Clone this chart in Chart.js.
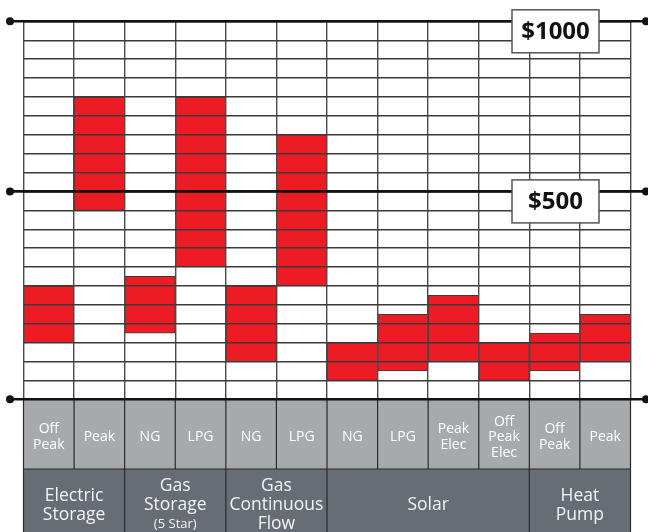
<!DOCTYPE html>
<html>
<head>
<meta charset="utf-8">
<script src="https://cdn.jsdelivr.net/npm/chart.js@4.4.1/dist/chart.umd.min.js"></script>
<style>
  html, body { margin: 0; padding: 0; background: #fff; }
  #wrap { width: 648px; height: 532px; }
</style>
</head>
<body>
<div id="wrap"><canvas id="costChart" width="648" height="532"></canvas></div>
<script>
// Running cost range per system, in grid rows ($500 line = row 11, $1000 line = row 20)
const subLabels = [['Off', 'Peak'], ['Peak'], ['NG'], ['LPG'], ['NG'], ['LPG'],
                   ['NG'], ['LPG'], ['Peak', 'Elec'], ['Off', 'Peak', 'Elec'], ['Off', 'Peak'], ['Peak']];
const groupLabels = [['Electric', 'Storage'], ['Gas', 'Storage', '(5 Star)'], ['Gas', 'Continuous', 'Flow'], ['Solar'], ['Heat', 'Pump']];
const groupSpans = [2, 2, 2, 4, 2];
const lowValues  = [3, 10, 3.5, 7, 2, 6, 1, 1.5, 2, 1, 1.5, 2];
const highValues = [6, 16, 6.5, 16, 6, 14, 3, 4.5, 5.5, 3, 3.5, 4.5];
const tickRows = [0, 11, 20];
const tickLabels = ['', '$500', '$1000'];

const FONT = '"Open Sans", "DejaVu Sans", sans-serif';

// Draw the thick reference lines, price boxes and the two label rows below
const decorPlugin = {
    id: 'decor',
    afterDraw(chart) {
        const ctx = chart.ctx;
        const area = chart.chartArea;
        const x = chart.scales.x;
        const y = chart.scales.y;
        const colW = (area.right - area.left) / subLabels.length;
        ctx.save();

        // label rows
        const rowTop = area.bottom;
        const rowMid = 469;
        const rowBot = chart.height;
        ctx.fillStyle = '#a7a9ac';
        ctx.fillRect(area.left, rowTop, area.right - area.left, rowMid - rowTop);
        ctx.fillStyle = '#676d75';
        ctx.fillRect(area.left, rowMid, area.right - area.left, rowBot - rowMid);

        ctx.strokeStyle = '#2a2a2a';
        ctx.lineWidth = 1.2;
        for (let i = 0; i <= subLabels.length; i++) {
            const px = area.left + i * colW;
            ctx.beginPath();
            ctx.moveTo(px, rowTop);
            ctx.lineTo(px, rowMid);
            ctx.stroke();
        }
        ctx.beginPath();
        ctx.moveTo(area.left, rowMid);
        ctx.lineTo(area.right, rowMid);
        ctx.stroke();
        let c = 0;
        ctx.beginPath();
        ctx.moveTo(area.left, rowMid);
        ctx.lineTo(area.left, rowBot);
        ctx.stroke();
        groupSpans.forEach(function(span) {
            c += span;
            const px = area.left + c * colW;
            ctx.beginPath();
            ctx.moveTo(px, rowMid);
            ctx.lineTo(px, rowBot);
            ctx.stroke();
        });

        ctx.fillStyle = '#ffffff';
        ctx.textAlign = 'center';
        ctx.textBaseline = 'middle';
        ctx.font = '14px ' + FONT;
        subLabels.forEach(function(lines, i) {
            const cx = x.getPixelForValue(i);
            const lh = lines.length > 2 ? 15.5 : 16.5;
            const cy = (rowTop + rowMid) / 2 + 3;
            lines.forEach(function(t, j) {
                ctx.fillText(t, cx, cy + (j - (lines.length - 1) / 2) * lh);
            });
        });

        ctx.fillStyle = '#f4f4f4';
        let start = 0;
        groupLabels.forEach(function(lines, g) {
            const cx = area.left + (start + groupSpans[g] / 2) * colW;
            start += groupSpans[g];
            const cy = (rowMid + rowBot) / 2 + 5;
            const lh = 19;
            lines.forEach(function(t, j) {
                ctx.font = (t.charAt(0) === '(' ? '13px ' : '17.5px ') + FONT;
                ctx.fillText(t, cx, cy + (j - (lines.length - 1) / 2) * lh);
            });
        });

        // thick reference lines with end dots
        ctx.strokeStyle = '#111';
        ctx.fillStyle = '#111';
        ctx.lineWidth = 2.6;
        tickRows.forEach(function(r) {
            const py = y.getPixelForValue(r);
            ctx.beginPath();
            ctx.moveTo(10, py);
            ctx.lineTo(646, py);
            ctx.stroke();
            [10, 646].forEach(function(dx) {
                ctx.beginPath();
                ctx.arc(dx, py, 4, 0, Math.PI * 2);
                ctx.fill();
            });
        });

        // price boxes
        tickRows.forEach(function(r, i) {
            if (!tickLabels[i]) return;
            const py = y.getPixelForValue(r);
            const bx = area.right - 118.5;
            const by = py - 11.5;
            ctx.fillStyle = '#fff';
            ctx.fillRect(bx, by, 87, 43);
            ctx.strokeStyle = '#555';
            ctx.lineWidth = 1.5;
            ctx.strokeRect(bx, by, 87, 43);
            ctx.fillStyle = '#111';
            ctx.font = 'bold 24px ' + FONT;
            ctx.fillText(tickLabels[i], bx + 43.5, by + 22);
        });

        ctx.restore();
    }
};

const ctx = document.getElementById('costChart').getContext('2d');
new Chart(ctx, {
    type: 'bar',
    data: {
        labels: subLabels.map(function(l) { return l.join(' '); }),
        datasets: [{
            data: lowValues.map(function(lo, i) { return [lo, highValues[i]]; }),
            backgroundColor: '#ed1c24',
            borderColor: '#3a3a3a',
            borderWidth: 1,
            borderSkipped: false,
            barPercentage: 1,
            categoryPercentage: 1
        }]
    },
    options: {
        responsive: false,
        animation: false,
        layout: {
            padding: { left: 23.5, right: 17.5, top: 21.3, bottom: 132.7 }
        },
        scales: {
            x: {
                offset: true,
                ticks: { display: false },
                border: { display: false },
                grid: { z: 1, offset: true, drawTicks: false, color: '#4a4a4a', lineWidth: 1.4 }
            },
            y: {
                min: 0,
                max: 20,
                ticks: { display: false, stepSize: 1 },
                border: { display: false },
                grid: { z: 1, drawTicks: false, color: '#3a3a3a', lineWidth: 1.4 }
            }
        },
        plugins: {
            legend: { display: false },
            tooltip: { enabled: false }
        }
    },
    plugins: [decorPlugin]
});
</script>
</body>
</html>
